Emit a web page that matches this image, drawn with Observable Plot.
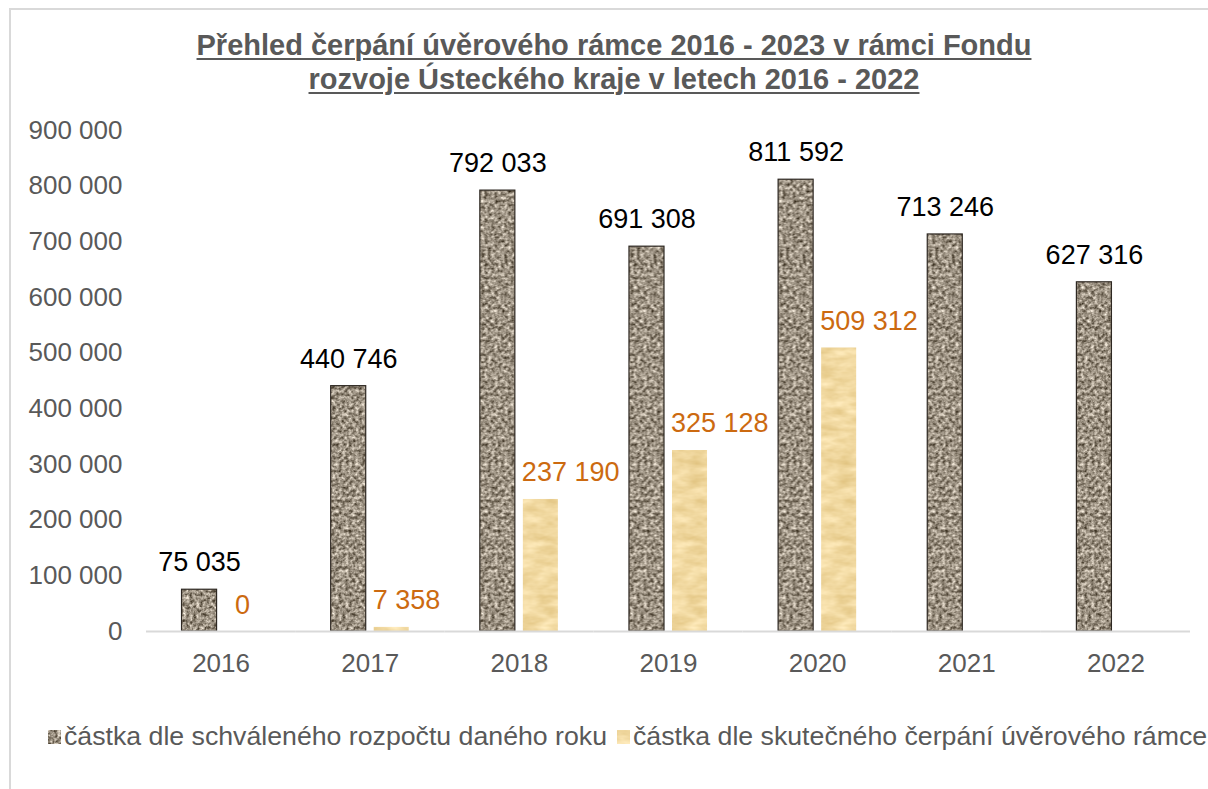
<!DOCTYPE html>
<html>
<head>
<meta charset="utf-8">
<script src="https://cdn.jsdelivr.net/npm/d3@7"></script>
<script src="https://cdn.jsdelivr.net/npm/@observablehq/plot@0.6"></script>
<style>
  html, body { margin: 0; padding: 0; background: #fff; }
  #wrap { position: relative; width: 1208px; height: 789px; overflow: hidden; font-family: "Liberation Sans", Arial, sans-serif; }
  #frame { position: absolute; left: 9px; top: 8px; width: 1400px; height: 900px; border: 2px solid #d9d9d9; box-sizing: border-box; }
  #title { position: absolute; left: 9px; width: 1210px; top: 28px; text-align: center; font-weight: bold; font-size: 29px; line-height: 34px; color: #595959; text-decoration: underline; text-decoration-thickness: 2px; text-underline-offset: 3px; }
  #chart { position: absolute; left: 0; top: 0; }
  #legend { position: absolute; left: 48px; top: 721px; display: flex; align-items: center; white-space: nowrap; font-size: 26.7px; color: #595959; }
  .sw { display: inline-block; width: 13px; height: 14px; margin-right: 3px; }
  .item { display: flex; align-items: center; margin-right: 10px; }
</style>
</head>
<body>
<div id="wrap">
  <div id="frame"></div>
  <div id="title">Přehled čerpání úvěrového rámce 2016 - 2023 v rámci Fondu<br>rozvoje Ústeckého kraje v letech 2016 - 2022</div>
  <div id="chart"></div>
  <div id="legend"></div>
</div>
<script>
// ---- data ----
const years = ["2016", "2017", "2018", "2019", "2020", "2021", "2022"];
const schvaleno = [75035, 440746, 792033, 691308, 811592, 713246, 627316];
const cerpano = [0, 7358, 237190, 325128, 509312, null, null];
const seriesKeys = ["A", "B"];
const seriesNames = ["částka dle schváleného rozpočtu daného roku", "částka dle skutečného čerpání úvěrového rámce"];
const yTicks = [0, 100000, 200000, 300000, 400000, 500000, 600000, 700000, 800000, 900000];

const fmt = v => d3.format(",")(v).replace(/,/g, " ");

const rowsA = years.map((y, i) => ({year: y, series: "A", value: schvaleno[i]}));
const rowsB = years.map((y, i) => ({year: y, series: "B", value: cerpano[i]})).filter(d => d.value != null);

const plot = Plot.plot({
  width: 1208,
  height: 700,
  marginTop: 130,
  marginBottom: 69,
  marginLeft: 146,
  marginRight: 18,
  style: {fontFamily: "'Liberation Sans', Arial, sans-serif", fontSize: "26px", color: "#595959", background: "transparent"},
  fx: {domain: years, padding: 0, round: false, axis: "bottom", tickSize: 0, tickPadding: 22, label: null, fontSize: 27},
  x: {domain: seriesKeys, axis: null, round: false, paddingInner: 0.186, paddingOuter: 0.826},
  y: {domain: [0, 900000], ticks: yTicks, tickFormat: fmt, tickSize: 0, tickPadding: 24, label: null},
  marks: [
    Plot.barY(rowsA, {fx: "year", x: "series", y: "value", fill: "url(#granite)", stroke: "#2e2822", strokeWidth: 1.2}),
    Plot.barY(rowsB, {fx: "year", x: "series", y: "value", fill: "url(#parchment)"}),
    Plot.ruleY([0], {stroke: "#d9d9d9", strokeWidth: 2}),
    Plot.text(rowsA, {fx: "year", x: "series", y: "value", text: d => fmt(d.value), dy: -27, lineAnchor: "middle", fill: "#000", fontSize: 27}),
    Plot.text(rowsB.filter(d => d.value !== 0), {fx: "year", x: "series", y: "value", text: d => fmt(d.value), dy: -27, dx: -19, textAnchor: "start", lineAnchor: "middle", fill: "#cc6a10", fontSize: 27}),
    Plot.text(rowsB.filter(d => d.value === 0), {fx: "year", x: "series", y: "value", text: d => fmt(d.value), dy: -26, lineAnchor: "middle", fill: "#cc6a10", fontSize: 27})
  ]
});

// textures
const defs = `
<defs>
  <filter id="graniteF" x="0" y="0" width="100%" height="100%" filterUnits="objectBoundingBox" color-interpolation-filters="sRGB">
    <feTurbulence type="fractalNoise" baseFrequency="0.3" numOctaves="3" seed="4" result="n"/>
    <feColorMatrix in="n" type="matrix" values="1.1 0 0 0 0.06  1.1 0 0 0 0.02  1.1 0 0 0 -0.04  0 0 0 0 1"/>
  </filter>
  <filter id="parchF" x="0" y="0" width="100%" height="100%" filterUnits="objectBoundingBox" color-interpolation-filters="sRGB">
    <feTurbulence type="fractalNoise" baseFrequency="0.05 0.12" numOctaves="3" seed="2" result="n"/>
    <feColorMatrix in="n" type="matrix" values="0.15 0 0 0 0.87  0.2 0 0 0 0.75  0.3 0 0 0 0.48  0 0 0 0 1"/>
  </filter>
  <pattern id="granite" patternUnits="userSpaceOnUse" width="400" height="700">
    <rect width="400" height="700" filter="url(#graniteF)"/>
  </pattern>
  <pattern id="parchment" patternUnits="userSpaceOnUse" width="400" height="700">
    <rect width="400" height="700" filter="url(#parchF)"/>
  </pattern>
</defs>`;
plot.insertAdjacentHTML("afterbegin", defs);
document.getElementById("chart").appendChild(plot);

// legend
const legend = document.getElementById("legend");
const swFills = ["granite", "parchment"];
seriesNames.forEach((name, i) => {
  const item = document.createElement("span");
  item.className = "item";
  item.innerHTML = `<svg class="sw" width="13" height="14"><rect width="13" height="14" fill="url(#${swFills[i]})"/></svg><span>${name}</span>`;
  legend.appendChild(item);
});
</script>
</body>
</html>
